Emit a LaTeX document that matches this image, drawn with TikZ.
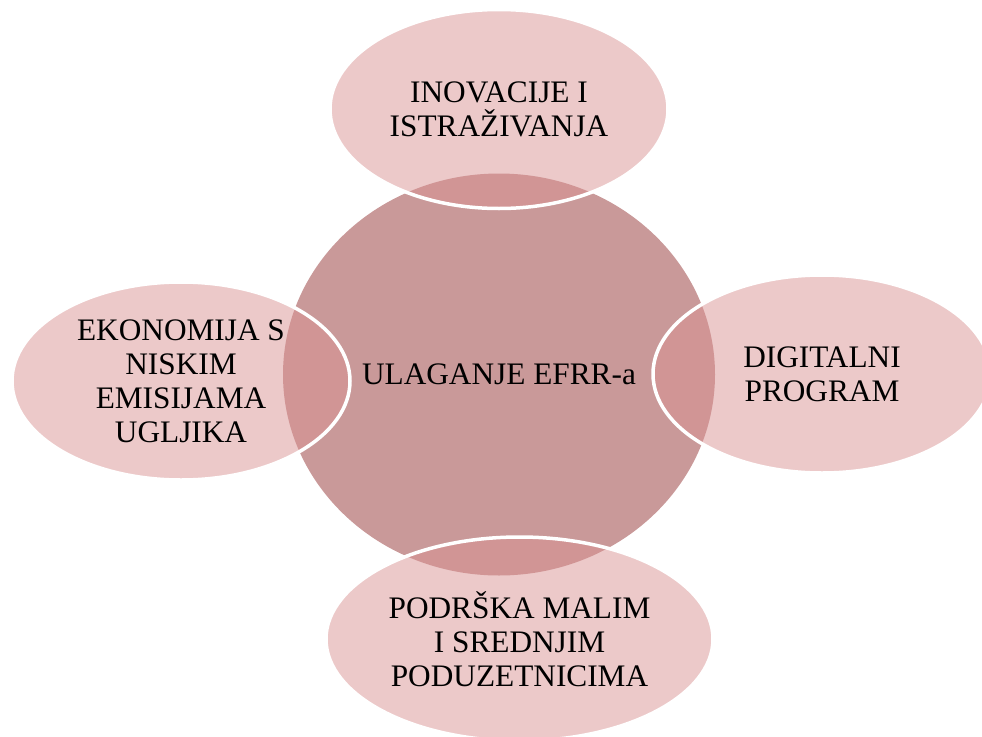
\documentclass[tikz,border=0pt]{standalone}
\usepackage{fontspec}
\setmainfont{Liberation Serif}
\usetikzlibrary{shapes.geometric}
\definecolor{hubfill}{RGB}{201,153,153}
\definecolor{satfill}{RGB}{217,147,147}
\tikzset{
  hub/.style={ellipse, inner sep=0pt, fill=hubfill, draw=none,
    minimum width=432pt, minimum height=402pt, align=center},
  sat/.style={ellipse, inner sep=0pt, fill=satfill, fill opacity=0.5,
    text opacity=1, draw=white, draw opacity=1, line width=3.5pt, align=center},
  lbl/.style={font=\fontsize{31.3}{34}\selectfont}
}
\begin{document}
\begin{tikzpicture}[x=1pt,y=-1pt]
\useasboundingbox (0,0) rectangle (982,736);
\node[hub, lbl] (hub) at (499,374.5) {ULAGANJE EFRR-a};
\node[sat, lbl, minimum width=338pt, minimum height=199pt] (sTop) at (499,109) {INOVACIJE I\\ISTRAŽIVANJA};
\node[sat, lbl, minimum width=338pt, minimum height=198pt] (sRight) at (822,374) {DIGITALNI\\PROGRAM};
\node[sat, lbl, minimum width=338pt, minimum height=198pt] (sLeft) at (181,381) {EKONOMIJA S\\NISKIM\\EMISIJAMA\\UGLJIKA};
\node[sat, lbl, minimum width=387pt, minimum height=204pt] (sBottom) at (519.5,639) {PODRŠKA MALIM\\I SREDNJIM\\PODUZETNICIMA};
\end{tikzpicture}
\end{document}
